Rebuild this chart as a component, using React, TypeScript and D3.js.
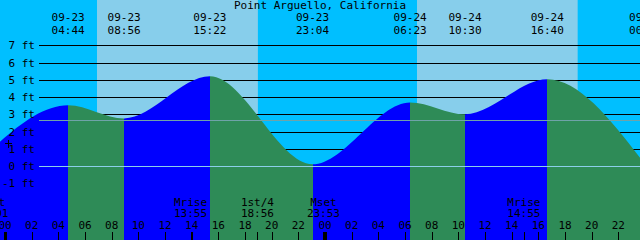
import React from 'react';
import * as d3 from 'd3';

const W = 640;
const H = 240;
const title = 'Point Arguello, California';

// Tide extremes (time, height in ft)
const tideTimes = ['09-22 22:10', '09-23 04:44', '09-23 08:56', '09-23 15:22', '09-23 23:04', '09-24 06:23', '09-24 10:30', '09-24 16:40', '09-25 00:03'];
const tideHeights = [0.38, 3.53, 2.76, 5.2, 0.1, 3.69, 3.0, 5.03, 0.05];

// Moon events
const moonNames = ['Mset', 'Mrise', '1st/4', 'Mset', 'Mrise'];
const moonTimes = ['09-22 23:01', '09-23 13:55', '09-23 18:56', '09-23 23:53', '09-24 14:55'];

// Sun
const sunriseTimes = ['09-23 06:54', '09-24 06:54'];
const sunsetTimes = ['09-23 18:58', '09-24 18:57'];

const footTicks = [-1, 0, 1, 2, 3, 4, 5, 6, 7];
const meanLevel = 2.67;
const datumLevel = 0;
const viewStart = '09-22 23:37:30';
const viewEnd = '09-24 23:37:30';

const parse = (s: string) => {
  const [md, hm] = s.split(' ');
  const [mo, d] = md.split('-').map(Number);
  const [hh, mm, ss] = hm.split(':').map(Number);
  return new Date(Date.UTC(2000, mo - 1, d, hh, mm, ss || 0));
};

const FONT = '"DejaVu Sans Mono", monospace';
const NIGHT = '#00BFFF';
const DAY = '#87CEEB';
const FLOOD = '#0000FF';
const EBB = '#2E8B57';

export default function App() {
  const x = d3.scaleUtc().domain([parse(viewStart), parse(viewEnd)]).range([0, W]);
  const y = d3.scaleLinear().domain([-1, 7]).range([183.3, 45.3]);

  const tides = tideTimes.map((t, i) => ({ t: parse(t), h: tideHeights[i] }));
  const area = d3
    .area<{ t: Date; h: number }>()
    .x((d) => x(d.t))
    .y0(H)
    .y1((d) => y(d.h))
    .curve(d3.curveMonotoneX);
  const areaPath = area(tides) || '';

  const hourTicks = x.ticks(d3.utcHour.every(2) as any);
  const fmtH = d3.utcFormat('%H');
  const fmtD = d3.utcFormat('%m-%d');
  const fmtT = d3.utcFormat('%H:%M');

  const lineX0 = 39;

  return (
    <svg width={W} height={H} style={{ position: 'absolute', left: 0, top: 0, display: 'block' }}>
      <defs>
        <clipPath id="tideClip">
          <path d={areaPath} />
        </clipPath>
      </defs>
      <rect x={0} y={0} width={W} height={H} fill={NIGHT} />
      {sunriseTimes.map((s, i) => (
        <rect
          key={'day' + i}
          x={x(parse(s))}
          y={0}
          width={x(parse(sunsetTimes[i])) - x(parse(s))}
          height={H}
          fill={DAY}
        />
      ))}
      {footTicks.map((f) => (
        <line
          key={'g' + f}
          x1={lineX0}
          x2={W}
          y1={Math.round(y(f)) + 0.5}
          y2={Math.round(y(f)) + 0.5}
          stroke="#000"
          strokeWidth={1}
          shapeRendering="crispEdges"
        />
      ))}
      <g clipPath="url(#tideClip)">
        {tides.slice(0, -1).map((d, i) => {
          const n = tides[i + 1];
          const x0 = x(d.t);
          const x1 = x(n.t);
          return (
            <rect
              key={'seg' + i}
              x={x0}
              y={0}
              width={x1 - x0}
              height={H}
              fill={n.h > d.h ? FLOOD : EBB}
              shapeRendering="crispEdges"
            />
          );
        })}
      </g>
      <line
        x1={lineX0}
        x2={W}
        y1={Math.round(y(meanLevel)) + 0.5}
        y2={Math.round(y(meanLevel)) + 0.5}
        stroke="#6FA3A8"
        strokeWidth={1}
        shapeRendering="crispEdges"
      />
      <line
        x1={lineX0}
        x2={W}
        y1={Math.round(y(datumLevel)) + 0.5}
        y2={Math.round(y(datumLevel)) + 0.5}
        stroke="#8CCFEA"
        strokeWidth={1}
        shapeRendering="crispEdges"
      />
      {/* foot labels */}
      {footTicks.map((f) => (
        <text key={'fl' + f} x={35} y={y(f) + 4} textAnchor="end" fontFamily={FONT} fontSize={11} fill="#000">
          {f} ft
        </text>
      ))}
      <path d="M5,143.5H12M8.5,140V148" stroke="#000" strokeWidth={1} shapeRendering="crispEdges" fill="none" />
      {/* title */}
      <text x={W / 2} y={9} textAnchor="middle" fontFamily={FONT} fontSize={11} fill="#000">
        {title}
      </text>
      {/* tide labels */}
      {tides.map((d, i) => (
        <g key={'tl' + i}>
          <text x={x(d.t)} y={21} textAnchor="middle" fontFamily={FONT} fontSize={11} fill="#000">
            {fmtD(d.t)}
          </text>
          <text x={x(d.t)} y={34} textAnchor="middle" fontFamily={FONT} fontSize={11} fill="#000">
            {fmtT(d.t)}
          </text>
        </g>
      ))}
      {/* moon labels */}
      {moonTimes.map((m, i) => {
        const t = parse(m);
        return (
          <g key={'m' + i}>
            <text x={x(t)} y={206} textAnchor="middle" fontFamily={FONT} fontSize={11} fill="#000">
              {moonNames[i]}
            </text>
            <text x={x(t)} y={217} textAnchor="middle" fontFamily={FONT} fontSize={11} fill="#000">
              {fmtT(t)}
            </text>
            <line x1={Math.round(x(t)) + 0.5} x2={Math.round(x(t)) + 0.5} y1={232} y2={H} stroke="#000" shapeRendering="crispEdges" />
          </g>
        );
      })}
      {/* hour ticks */}
      {hourTicks.map((t, i) => {
        const xx = x(t);
        const midnight = t.getUTCHours() === 0;
        return (
          <g key={'h' + i}>
            <text x={xx} y={229} textAnchor="middle" fontFamily={FONT} fontSize={11} fill="#000">
              {fmtH(t)}
            </text>
            <line
              x1={Math.round(xx) + 0.5}
              x2={Math.round(xx) + 0.5}
              y1={232}
              y2={H}
              stroke="#000"
              strokeWidth={midnight ? 3 : 1}
              shapeRendering="crispEdges"
            />
          </g>
        );
      })}
    </svg>
  );
}
